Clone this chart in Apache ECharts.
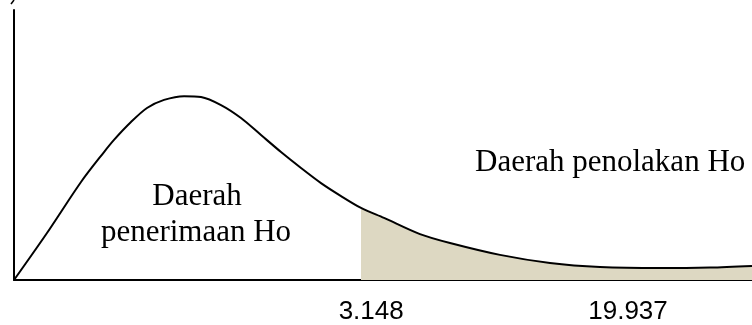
<!DOCTYPE html>
<html>
<head>
<meta charset="utf-8">
<script src="https://cdn.jsdelivr.net/npm/echarts@6/dist/echarts.min.js"></script>
<style>
  html, body { margin: 0; padding: 0; background: #fff; }
  #chart { width: 752px; height: 325px; }
</style>
</head>
<body>
<div id="chart"></div>
<script>
// curve (axis units 0..100 both ways, not to scale)
var curveX = [0, 4.47, 9.08, 12.20, 13.55, 15.85, 18.02, 20.33, 23.04, 25.34, 28.05, 30.76, 33.47, 36.18, 38.89, 41.60, 44.31, 47.02, 50.14, 55.01, 59.08, 65.85, 72.63, 79.40, 87.53, 94.31, 100];
var curveY = [0, 17.4, 36.3, 47.4, 51.9, 58.5, 63.7, 66.7, 68.1, 67.8, 64.8, 60.0, 53.7, 47.4, 41.5, 35.9, 31.1, 26.7, 23.0, 17.0, 13.7, 9.3, 6.3, 4.8, 4.4, 4.6, 5.2];
var rejectStart = 17; // index where the rejection region begins
var tickLabels = ['3.148', '19.937'];
var tickPos = [48.4, 83.2];

var curve = curveX.map(function (x, i) { return [x, curveY[i]]; });
var rejectArea = curve.slice(rejectStart);

var chart = echarts.init(document.getElementById('chart'));
var option = {
    animation: false,
    grid: { left: 14, right: 0, top: 10, bottom: 45 },
    xAxis: {
        type: 'value',
        min: 0,
        max: 100,
        splitLine: { show: false },
        axisTick: { show: false },
        axisLine: { lineStyle: { color: '#000', width: 2 } },
        axisLabel: {
            customValues: tickPos,
            margin: 19,
            fontFamily: 'Liberation Sans',
            fontSize: 26,
            color: '#000',
            formatter: function (v) {
                var i = tickPos.indexOf(v);
                return i >= 0 ? tickLabels[i] : '';
            }
        }
    },
    yAxis: {
        type: 'value',
        min: 0,
        max: 100,
        splitLine: { show: false },
        axisTick: { show: false },
        axisLabel: { show: false },
        axisLine: { show: true, lineStyle: { color: '#000', width: 2 } }
    },
    series: [
        {
            type: 'line',
            data: rejectArea,
            smooth: 0.3,
            symbol: 'none',
            lineStyle: { width: 0 },
            areaStyle: { color: '#ddd8c2', opacity: 1 },
            z: 1
        },
        {
            type: 'line',
            data: curve,
            smooth: 0.3,
            symbol: 'none',
            lineStyle: { color: '#000', width: 2 },
            z: 3
        }
    ],
    graphic: [
        {
            type: 'text',
            x: 197, y: 181,
            style: { text: 'Daerah', font: '31px "Liberation Serif"', fill: '#000', textAlign: 'center', textVerticalAlign: 'top' }
        },
        {
            type: 'text',
            x: 196, y: 217,
            style: { text: 'penerimaan Ho', font: '31px "Liberation Serif"', fill: '#000', textAlign: 'center', textVerticalAlign: 'top' }
        },
        {
            type: 'text',
            x: 475, y: 147,
            style: { text: 'Daerah penolakan Ho', font: '31px "Liberation Serif"', fill: '#000', textAlign: 'left', textVerticalAlign: 'top' }
        },
        {
            type: 'line',
            shape: { x1: 11, y1: 4, x2: 14, y2: 0 },
            style: { stroke: '#000', lineWidth: 1.5 }
        }
    ]
};
chart.setOption(option);
</script>
</body>
</html>
